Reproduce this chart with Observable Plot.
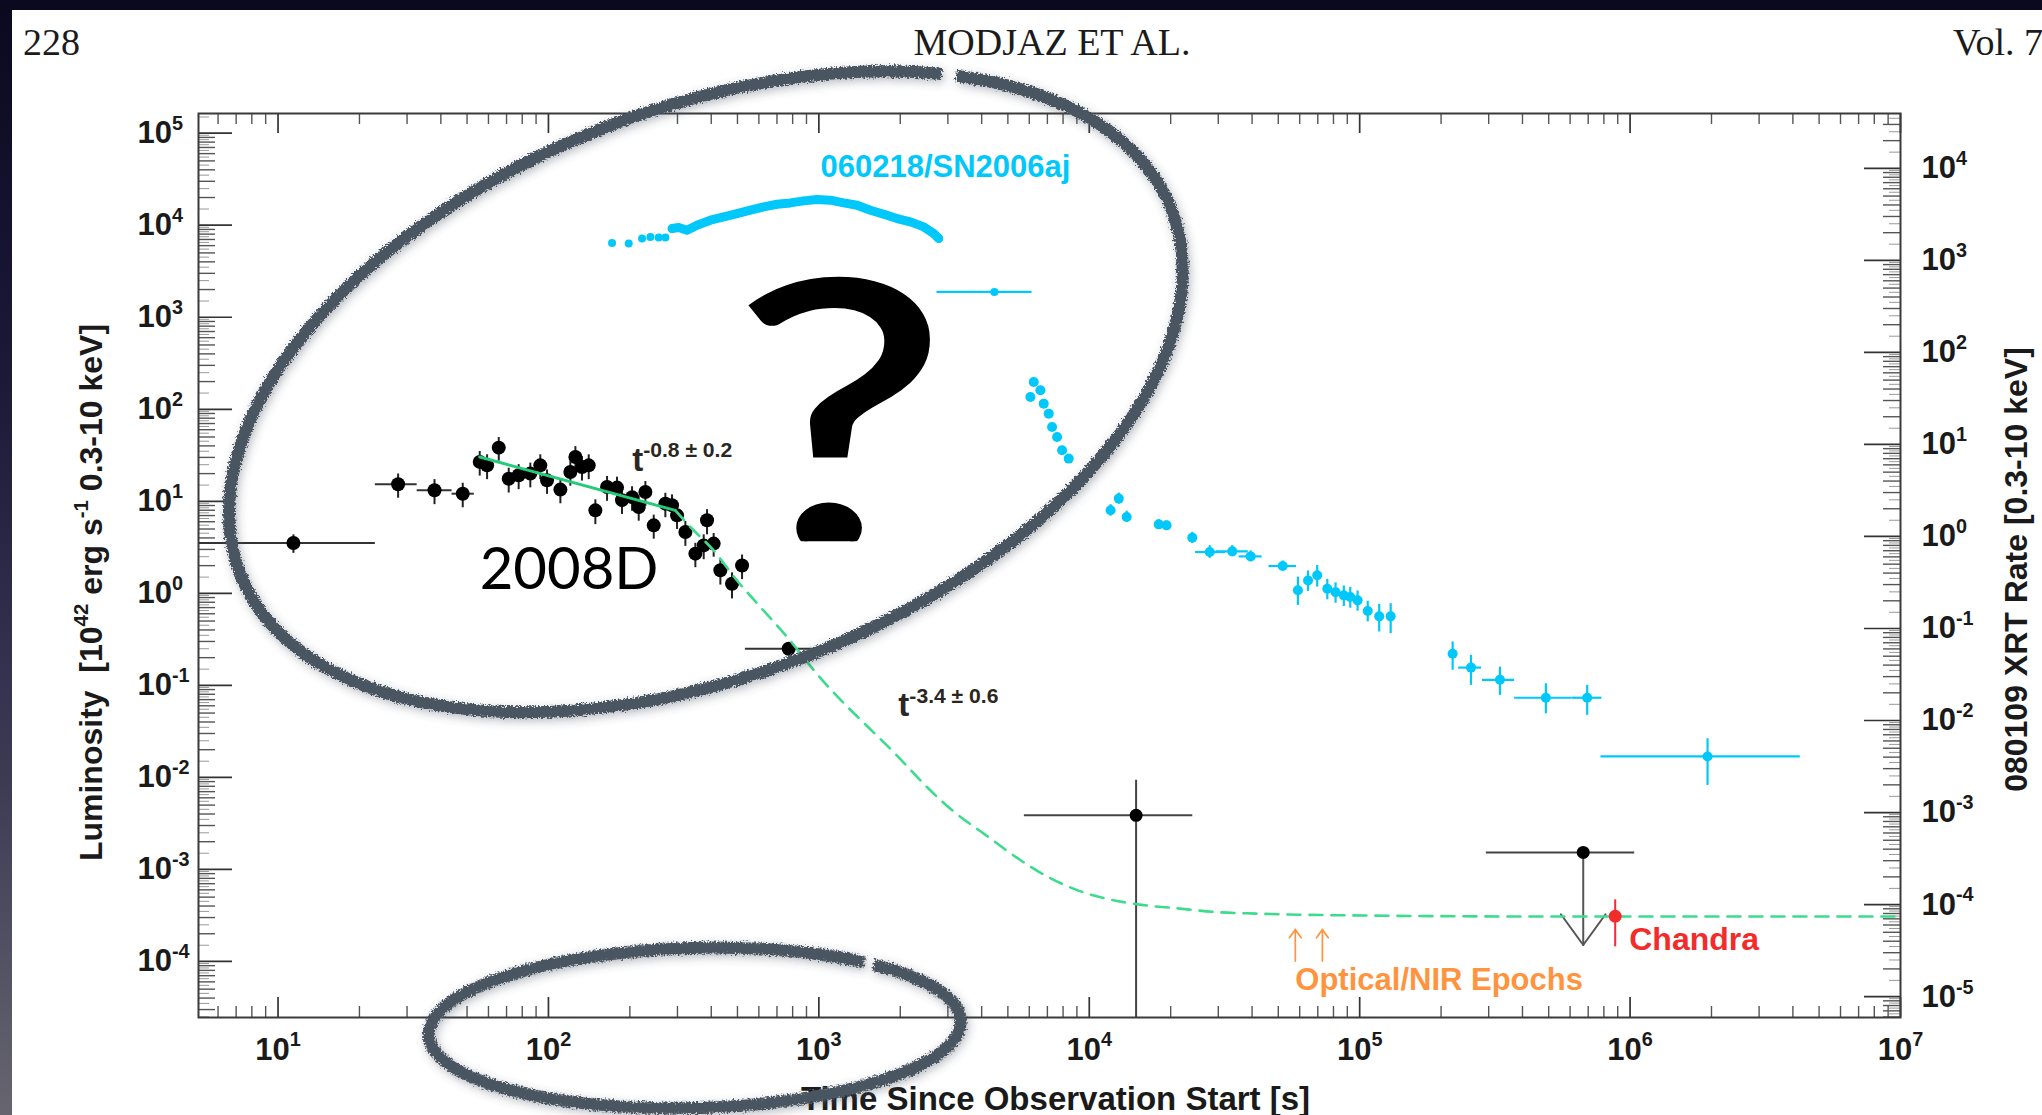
<!DOCTYPE html>
<html>
<head>
<meta charset="utf-8">
<script src="https://cdn.jsdelivr.net/npm/d3@7"></script>
<script src="https://cdn.jsdelivr.net/npm/@observablehq/plot@0.6"></script>
<style>
  html, body { margin:0; padding:0; width:2042px; height:1115px; overflow:hidden; }
  body { position:relative; background: linear-gradient(180deg, #0a0920 0%, #1c1a37 35%, #3d3b54 70%, #66656f 100%); }
  #page { position:absolute; left:12px; top:10px; width:2030px; height:1105px; background:#ffffff; }
  .hdr { position:absolute; top:23px; font-family:"Liberation Serif","Times New Roman",serif; font-size:38px; line-height:38px; color:#1b1b1b; white-space:pre; }
  #chart { position:absolute; left:0; top:0; }
</style>
</head>
<body>
<div id="page"></div>
<div class="hdr" style="left:23px;">228</div>
<div class="hdr" style="left:1052px; transform:translateX(-50%);">MODJAZ ET AL.</div>
<div class="hdr" style="left:1953px;">Vol. 7</div>
<div id="chart"></div>
<script>
// ---------------- tick labels / axes ----------------
const X_TICK_EXP = [1, 2, 3, 4, 5, 6, 7];
const Y_LEFT_EXP = [-4, -3, -2, -1, 0, 1, 2, 3, 4, 5];
const Y_RIGHT_EXP = [-5, -4, -3, -2, -1, 0, 1, 2, 3, 4];
const RIGHT_AXIS_SHIFT = 0.618;            // decades between luminosity axis and XRT-rate axis
const X_DOMAIN = [5.08, 1e7];
const Y_DOMAIN = [Math.pow(10, -4.609), Math.pow(10, 5.214)];

// ---------------- SN 2008D / XRF 080109 (black) ----------------
const sn08dT = [11.4, 27.8, 37.9, 48.2, 55.7, 59.3, 65.5, 71.3, 77.6, 85.7, 93.3, 98.8, 110.7, 120.5, 125.8, 133.1, 140.9, 149.1, 164.7, 179.3, 187.1, 203.8, 215.7, 228.3, 245.1, 270.6, 286.4, 298.9, 320.9, 349.4, 375.1, 385.9, 408.3, 432.3, 477.4, 520.0, 773.5];
const sn08dL = [3.52, 15.3, 13.2, 12.1, 26.8, 24.6, 38.3, 17.6, 19.2, 20.0, 24.6, 16.9, 13.4, 20.8, 30.3, 23.6, 24.6, 7.98, 14.3, 14.1, 10.3, 11.1, 8.68, 12.6, 5.48, 9.43, 9.05, 7.04, 4.64, 2.70, 3.32, 6.22, 3.47, 1.78, 1.27, 2.01, 0.250];
const sn08dErr = [0.8, 4.5, 4.0, 3.6, 8.0, 7.4, 11.0, 5.3, 5.8, 6.0, 7.4, 5.0, 4.0, 6.2, 9.0, 7.0, 7.4, 2.4, 4.3, 4.2, 3.1, 3.3, 2.6, 3.8, 1.6, 2.8, 2.7, 2.1, 1.4, 0.8, 1.0, 1.9, 1.0, 0.55, 0.4, 0.6, 0.04];
const sn08dXerrT = [11.4, 27.8, 37.9, 48.2, 773.5];
const sn08dXerrL = [3.52, 15.3, 13.2, 12.1, 0.250];
const sn08dXerrLo = [4.0, 22.9, 32.7, 44.0, 535];
const sn08dXerrHi = [22.9, 32.7, 44.0, 53.2, 1039];
const sn08dLateT = [14900];
const sn08dLateL = [0.00387];
const sn08dLateTlo = [5754];
const sn08dLateThi = [24150];
const sn08dLateLo = [1e-6];
const sn08dLateHi = [0.0093];
const upperLimT = [671000];
const upperLimL = [0.00153];
const upperLimTip = [1.51e-4];
const upperLimTlo = [294000];
const upperLimThi = [1040000];
const chandraT = [881000];
const chandraL = [3.1e-4];
const chandraLo = [1.44e-4];
const chandraHi = [4.67e-4];
const opticalEpochT = [57800, 72800];

// power-law fit (green)
const fitSolidT = [55.7, 294.5];
const fitSolidL = [30.3, 7.98];
const fitDashT = [294.5, 335, 408, 498, 607.7, 773, 964, 2002, 2515, 3160, 4121, 5376, 7018, 9162, 11950, 15580, 21130, 28640, 41860, 89540, 494000, 1e7];
const fitDashL = [7.98, 5.26, 2.93, 1.38, 0.711, 0.321, 0.143, 0.0158, 0.00782, 0.00423, 0.00239, 0.00135, 8.34e-4, 5.85e-4, 4.71e-4, 4.12e-4, 3.78e-4, 3.46e-4, 3.31e-4, 3.17e-4, 3.08e-4, 3.08e-4];

// ---------------- GRB 060218 / SN 2006aj (cyan) ----------------
const grbBandT = [171.9, 198.1, 221.9, 238.2, 255.6, 270.6, 286.4, 303.2, 325.4, 354.3, 397.0, 444.7, 498.2, 558.0, 625.2, 700.2, 784.6, 879.0, 984.7, 1103, 1236, 1385, 1551, 1738, 1947, 2181, 2443, 2659, 2776];
const grbBandL = [6427, 6321, 7161, 7468, 7345, 7345, 9200, 9433, 8826, 10000, 11330, 12320, 13390, 14550, 15820, 16910, 17480, 18390, 19010, 18700, 17480, 16500, 14550, 13170, 11820, 10870, 9592, 8118, 7163];
const grbMidT = [4457];
const grbMidL = [1885];
const grbMidTlo = [2735];
const grbMidThi = [6143];
const grbDropT = [6057, 6232, 6596, 6786, 7082, 7286, 7601, 7932, 8395];
const grbDropL = [136.2, 198.2, 160.9, 115.2, 89.7, 64.3, 50.0, 35.8, 29.1];
const grbTailT = [11990, 12860, 13750, 18070, 19310, 24040, 27890, 33790, 39520, 51940, 59100, 64410, 69650, 75900, 81440, 87370, 92290, 98240, 107100, 118100, 130200, 220700, 258000, 330200, 488100, 694000, 1934000];
const grbTailL = [7.98, 10.7, 6.76, 5.62, 5.48, 4.03, 2.81, 2.86, 2.52, 1.98, 1.08, 1.38, 1.57, 1.12, 1.03, 0.951, 0.912, 0.839, 0.643, 0.562, 0.562, 0.221, 0.156, 0.115, 0.0734, 0.0734, 0.0169];
const grbTailLlo = [6.9, 9.3, 5.9, 5.0, 4.9, 3.5, 2.4, 2.5, 2.2, 1.75, 0.74, 1.05, 1.17, 0.85, 0.78, 0.72, 0.69, 0.64, 0.49, 0.380, 0.365, 0.146, 0.100, 0.0778, 0.0492, 0.0472, 0.00818];
const grbTailLhi = [9.2, 12.3, 7.8, 6.3, 6.1, 4.6, 3.3, 3.3, 2.9, 2.25, 1.50, 1.75, 2.01, 1.42, 1.30, 1.20, 1.16, 1.06, 0.82, 0.759, 0.772, 0.296, 0.212, 0.158, 0.104, 0.100, 0.0263];
const grbTailTlo = [null, null, null, null, null, null, 24720, 29470, 35830, 46200, null, null, null, null, null, null, null, null, null, null, null, null, 232300, 284600, 374100, 610100, 780400];
const grbTailThi = [null, null, null, null, null, null, 31860, 38740, 43570, 58420, null, null, null, null, null, null, null, null, null, null, null, null, 282300, 374100, 610100, 786600, 4260000];

// ---------------- build tables ----------------
const SANS = "'Liberation Sans', Arial, Helvetica, sans-serif";
const CYAN = "#00c8fa", GREEN = "#3ddc8c", BLACK = "#000", RED = "#f22b2b", ORANGE = "#ff9440";
const W = 2042, H = 1115;
const M = {left: 198, right: 142, top: 113, bottom: 98};
const FW = W - M.left - M.right, FH = H - M.top - M.bottom;

const sn08d = sn08dT.map((t, i) => ({t, L: sn08dL[i], e: sn08dErr[i]}));
const sn08dX = sn08dXerrT.map((t, i) => ({t, L: sn08dXerrL[i], lo: sn08dXerrLo[i], hi: sn08dXerrHi[i]}));
const late = sn08dLateT.map((t, i) => ({t, L: sn08dLateL[i], t1: sn08dLateTlo[i], t2: sn08dLateThi[i], lo: sn08dLateLo[i], hi: sn08dLateHi[i]}));
const ul = upperLimT.map((t, i) => ({t, L: upperLimL[i], tip: upperLimTip[i], lo: upperLimTlo[i], hi: upperLimThi[i]}));
const chandra = chandraT.map((t, i) => ({t, L: chandraL[i], lo: chandraLo[i], hi: chandraHi[i]}));
const fitSolid = fitSolidT.map((t, i) => ({t, L: fitSolidL[i]}));
const fitDash = fitDashT.map((t, i) => ({t, L: fitDashL[i]}));
const band = grbBandT.map((t, i) => ({t, L: grbBandL[i]}));
const mid = grbMidT.map((t, i) => ({t, L: grbMidL[i], lo: grbMidTlo[i], hi: grbMidThi[i]}));
const drop = grbDropT.map((t, i) => ({t, L: grbDropL[i]}));
const tail = grbTailT.map((t, i) => ({t, L: grbTailL[i], l1: grbTailLlo[i], l2: grbTailLhi[i], t1: grbTailTlo[i], t2: grbTailThi[i]}));

const inX = v => v >= X_DOMAIN[0] && v <= X_DOMAIN[1];
const inY = v => v >= Y_DOMAIN[0] && v <= Y_DOMAIN[1];
const toLeft = r => r * Math.pow(10, RIGHT_AXIS_SHIFT);
const decades = d3.range(-7, 8);
const xMajor = X_TICK_EXP.map(e => Math.pow(10, e));
const xMinor = decades.flatMap(e => d3.range(2, 10).map(m => m * Math.pow(10, e))).filter(inX);
const yMajorL = Y_LEFT_EXP.map(e => Math.pow(10, e));
const yMinorL = decades.flatMap(e => d3.range(2, 10).map(m => m * Math.pow(10, e))).filter(inY);
const yFineL = decades.flatMap(e => d3.range(1.5, 10, 1).map(m => m * Math.pow(10, e))).filter(inY);
const yMajorR = Y_RIGHT_EXP.map(e => toLeft(Math.pow(10, e)));
const yMinorR = decades.flatMap(e => d3.range(2, 10).map(m => toLeft(m * Math.pow(10, e)))).filter(inY);
const yFineR = decades.flatMap(e => d3.range(1.5, 10, 1).map(m => toLeft(m * Math.pow(10, e)))).filter(inY);

const lbl = {fontFamily: SANS, fontWeight: "bold", fontSize: 31, fill: "#1a1a1a"};
const lineShape = {draw(context, l) { context.moveTo(0, 0); context.lineTo(0, -l); }};

const chart = Plot.plot({
  width: W, height: H,
  marginLeft: M.left, marginRight: M.right, marginTop: M.top, marginBottom: M.bottom,
  x: {type: "log", domain: X_DOMAIN, axis: null},
  y: {type: "log", domain: Y_DOMAIN, axis: null},
  style: {background: "transparent", overflow: "visible"},
  marks: [
    // axis ticks (drawn inward)
    Plot.tickY(yFineL, {y: d => d, stroke: "#999", strokeWidth: 1, insetRight: FW - 11}),
    Plot.tickY(yMinorL, {y: d => d, stroke: "#555", strokeWidth: 1.4, insetRight: FW - 17}),
    Plot.tickY(yMajorL, {y: d => d, stroke: "#333", strokeWidth: 1.7, insetRight: FW - 34}),
    Plot.tickY(yFineR, {y: d => d, stroke: "#999", strokeWidth: 1, insetLeft: FW - 11}),
    Plot.tickY(yMinorR, {y: d => d, stroke: "#555", strokeWidth: 1.4, insetLeft: FW - 17}),
    Plot.tickY(yMajorR, {y: d => d, stroke: "#333", strokeWidth: 1.7, insetLeft: FW - 36}),
    Plot.tickX(xMinor, {x: d => d, stroke: "#555", strokeWidth: 1.4, insetTop: FH - 11}),
    Plot.tickX(xMajor, {x: d => d, stroke: "#333", strokeWidth: 1.7, insetTop: FH - 20}),
    Plot.tickX(xMinor, {x: d => d, stroke: "#555", strokeWidth: 1.4, insetBottom: FH - 11}),
    Plot.tickX(xMajor, {x: d => d, stroke: "#333", strokeWidth: 1.7, insetBottom: FH - 20}),
    Plot.frame({stroke: "#3a3a3a", strokeWidth: 2}),

    // tick labels
    Plot.text(X_TICK_EXP, {x: e => Math.pow(10, e), frameAnchor: "bottom", text: e => `10^{${e}}`, dy: 42, lineAnchor: "bottom", textAnchor: "middle", ...lbl}),
    Plot.text(Y_LEFT_EXP, {y: e => Math.pow(10, e), frameAnchor: "left", text: e => `10^{${e}}`, dx: -61, lineAnchor: "middle", textAnchor: "start", ...lbl}),
    Plot.text(Y_RIGHT_EXP, {y: e => toLeft(Math.pow(10, e)), frameAnchor: "right", text: e => `10^{${e}}`, dx: 21, lineAnchor: "middle", textAnchor: "start", ...lbl}),

    // axis titles
    Plot.text(["Time Since Observation Start [s]"], {text: d => d, frameAnchor: "bottom", dx: 6, dy: 92, lineAnchor: "bottom", textAnchor: "middle", ...lbl, fontSize: 33}),
    Plot.text(["Luminosity  [10^{42} erg s^{-1} 0.3-10 keV]"], {text: d => d, frameAnchor: "left", dx: -107, dy: 27, rotate: -90, lineAnchor: "middle", textAnchor: "middle", ...lbl, fontSize: 32}),
    Plot.text(["080109 XRT Rate [0.3-10 keV]"], {text: d => d, frameAnchor: "right", dx: 116, dy: 4, rotate: -90, lineAnchor: "middle", textAnchor: "middle", ...lbl, fontSize: 32}),

    // GRB 060218 (cyan)
    Plot.line(band.filter(d => d.t >= 286), {x: "t", y: "L", stroke: CYAN, strokeWidth: 9, strokeLinecap: "round", strokeLinejoin: "round"}),
    Plot.dot(band, {x: "t", y: "L", r: 4, fill: CYAN}),
    Plot.ruleY(mid, {y: "L", x1: "lo", x2: "hi", stroke: CYAN, strokeWidth: 2.2}),
    Plot.dot(mid, {x: "t", y: "L", r: 4, fill: CYAN}),
    Plot.dot(drop, {x: "t", y: "L", r: 5, fill: CYAN}),
    Plot.ruleY(tail.filter(d => d.t1 != null), {y: "L", x1: "t1", x2: "t2", stroke: CYAN, strokeWidth: 2.2, clip: true}),
    Plot.ruleX(tail, {x: "t", y1: "l1", y2: "l2", stroke: CYAN, strokeWidth: 2.2}),
    Plot.dot(tail, {x: "t", y: "L", r: 5, fill: CYAN}),

    // SN 2008D (black)
    Plot.ruleY(sn08dX, {y: "L", x1: "lo", x2: "hi", stroke: "#333", strokeWidth: 2, clip: true}),
    Plot.ruleX(sn08d, {x: "t", y1: d => d.L - d.e, y2: d => d.L + d.e, stroke: "#222", strokeWidth: 2}),
    Plot.dot(sn08d, {x: "t", y: "L", r: 7, fill: BLACK}),
    Plot.ruleY(late, {y: "L", x1: "t1", x2: "t2", stroke: "#444", strokeWidth: 2}),
    Plot.ruleX(late, {x: "t", y1: "lo", y2: "hi", stroke: "#444", strokeWidth: 2, clip: true}),
    Plot.dot(late, {x: "t", y: "L", r: 6.5, fill: BLACK}),
    Plot.ruleY(ul, {y: "L", x1: "lo", x2: "hi", stroke: "#444", strokeWidth: 2}),
    Plot.ruleX(ul, {x: "t", y1: "L", y2: "tip", stroke: "#555", strokeWidth: 2}),
    Plot.vector(ul, {x: "t", y: "tip", length: 38, rotate: -36, anchor: "start", shape: lineShape, stroke: "#555", strokeWidth: 2}),
    Plot.vector(ul, {x: "t", y: "tip", length: 38, rotate: 36, anchor: "start", shape: lineShape, stroke: "#555", strokeWidth: 2}),
    Plot.dot(ul, {x: "t", y: "L", r: 6.5, fill: BLACK}),

    // fit
    Plot.line(fitDash, {x: "t", y: "L", curve: "monotone-x", stroke: GREEN, strokeWidth: 2.6, strokeDasharray: "13,9"}),
    Plot.line(fitSolid, {x: "t", y: "L", stroke: "#22cc78", strokeWidth: 3}),

    // Chandra + optical epochs
    Plot.ruleX(chandra, {x: "t", y1: "lo", y2: "hi", stroke: RED, strokeWidth: 2}),
    Plot.dot(chandra, {x: "t", y: "L", r: 6.5, fill: RED}),
    Plot.arrow(opticalEpochT, {x: d => d, y1: 1.01e-4, y2: 2.23e-4, stroke: ORANGE, strokeWidth: 1.7, headLength: 9, headAngle: 70}),

    // annotations
    Plot.text(["060218/SN2006aj"], {x: () => 1014, y: () => 33260, text: d => d, textAnchor: "start", lineAnchor: "bottom", fontFamily: SANS, fontWeight: "bold", fontSize: 31, fill: CYAN}),
    Plot.text(["t^{-0.8 ± 0.2}"], {x: () => 204, y: () => 21.2, text: d => d, textAnchor: "start", lineAnchor: "bottom", fontFamily: SANS, fontWeight: "bold", fontSize: 33, fill: "#2a2622"}),
    Plot.text(["t^{-3.4 ± 0.6}"], {x: () => 1968, y: () => 0.046, text: d => d, textAnchor: "start", lineAnchor: "bottom", fontFamily: SANS, fontWeight: "bold", fontSize: 33, fill: "#2a2622"}),
    Plot.text(["Optical/NIR Epochs"], {x: () => 57800, y: () => 4.84e-5, text: d => d, textAnchor: "start", lineAnchor: "bottom", fontFamily: SANS, fontWeight: "bold", fontSize: 31, fill: ORANGE}),
    Plot.text(["Chandra"], {x: () => 993000, y: () => 1.32e-4, text: d => d, textAnchor: "start", lineAnchor: "bottom", fontFamily: SANS, fontWeight: "bold", fontSize: 32, fill: RED}),
    Plot.text(["2008D"], {x: () => 55.7, y: () => 1.125, text: d => d, textAnchor: "start", lineAnchor: "bottom", fontFamily: "Lato, 'Open Sans', sans-serif", fontWeight: "normal", fontSize: 58, fill: "#000"}),
    Plot.text(["?"], {x: () => 1201, y: () => 3.08, text: d => d, textAnchor: "middle", lineAnchor: "bottom", fontFamily: "Lato, 'Open Sans', sans-serif", fontWeight: "normal", fontSize: 372, fill: "#000"})
  ]
});

document.getElementById("chart").appendChild(chart);

// ---------- superscripts ----------
const NS = "http://www.w3.org/2000/svg";
chart.querySelectorAll("text").forEach(el => {
  const s = el.textContent;
  if (!s.includes("^{")) return;
  const fs = parseFloat(getComputedStyle(el).fontSize);
  const rise = 0.42 * fs, small = 0.64 * fs;
  while (el.firstChild) el.removeChild(el.firstChild);
  const re = /\^\{([^}]*)\}/g;
  let last = 0, m, up = false;
  const add = (txt, sup) => {
    const ts = document.createElementNS(NS, "tspan");
    ts.textContent = txt;
    if (sup) { ts.setAttribute("dy", -rise); ts.setAttribute("font-size", small); }
    else if (up) ts.setAttribute("dy", rise);
    el.appendChild(ts);
    up = sup;
  };
  while ((m = re.exec(s))) {
    if (m.index > last) add(s.slice(last, m.index), false);
    add(m[1], true);
    last = re.lastIndex;
  }
  if (last < s.length) add(s.slice(last), false);
});

// ---------- scales for annotation overlay ----------
const sx = chart.scale("x"), sy = chart.scale("y");
const fx = v => sx.apply ? sx.apply(v) : d3.scaleLog(sx.domain, sx.range)(v);
const fy = v => sy.apply ? sy.apply(v) : d3.scaleLog(sy.domain, sy.range)(v);

const svg = d3.select(chart);
const defs = svg.insert("defs", ":first-child");
defs.html(`
  <filter id="chalk" x="-10%" y="-10%" width="120%" height="120%">
    <feTurbulence type="fractalNoise" baseFrequency="0.55" numOctaves="2" seed="5" result="n"/>
    <feDisplacementMap in="SourceGraphic" in2="n" scale="7" xChannelSelector="R" yChannelSelector="G" result="d"/>
    <feGaussianBlur in="d" stdDeviation="5" result="b"/>
    <feOffset in="b" dx="2" dy="3" result="o"/>
    <feComponentTransfer in="o" result="s"><feFuncA type="linear" slope="0.4"/></feComponentTransfer>
    <feMerge><feMergeNode in="s"/><feMergeNode in="d"/></feMerge>
  </filter>
  <clipPath id="qclip" clipPathUnits="userSpaceOnUse"><rect x="0" y="0" width="${W}" height="${fy(3.67)}"/></clipPath>
`);
// widen and clip the big question mark
chart.querySelectorAll("text").forEach(el => {
  if (el.textContent !== "?") return;
  const qx = fx(1201);
  const tr = el.getAttribute("transform") || "";
  el.setAttribute("transform", `translate(${qx},0) scale(1.3,1) translate(${-qx},0) ${tr}`);
  el.setAttribute("stroke", "#000");
  el.setAttribute("stroke-width", "4");
  el.parentNode.setAttribute("clip-path", "url(#qclip)");
});

// hand-drawn ellipses (centres in data space)
const ellipses = [
  {t: 383.7, L: 153, rx: 500, ry: 283, rot: -21.4, dash: "888,6,106"},
  {t: 349, L: 1.87e-5, rx: 266, ry: 80, rot: -1.5, dash: "898,8,94"}
];
const eg = svg.append("g").attr("filter", "url(#chalk)");
ellipses.forEach(e => {
  const cx = fx(e.t), cy = fy(e.L);
  eg.append("ellipse")
    .attr("cx", cx).attr("cy", cy).attr("rx", e.rx).attr("ry", e.ry)
    .attr("transform", `rotate(${e.rot},${cx},${cy})`)
    .attr("pathLength", 1000).attr("stroke-dasharray", e.dash)
    .attr("fill", "none").attr("stroke", "#4a5461").attr("stroke-width", 12);
});
</script>
</body>
</html>
